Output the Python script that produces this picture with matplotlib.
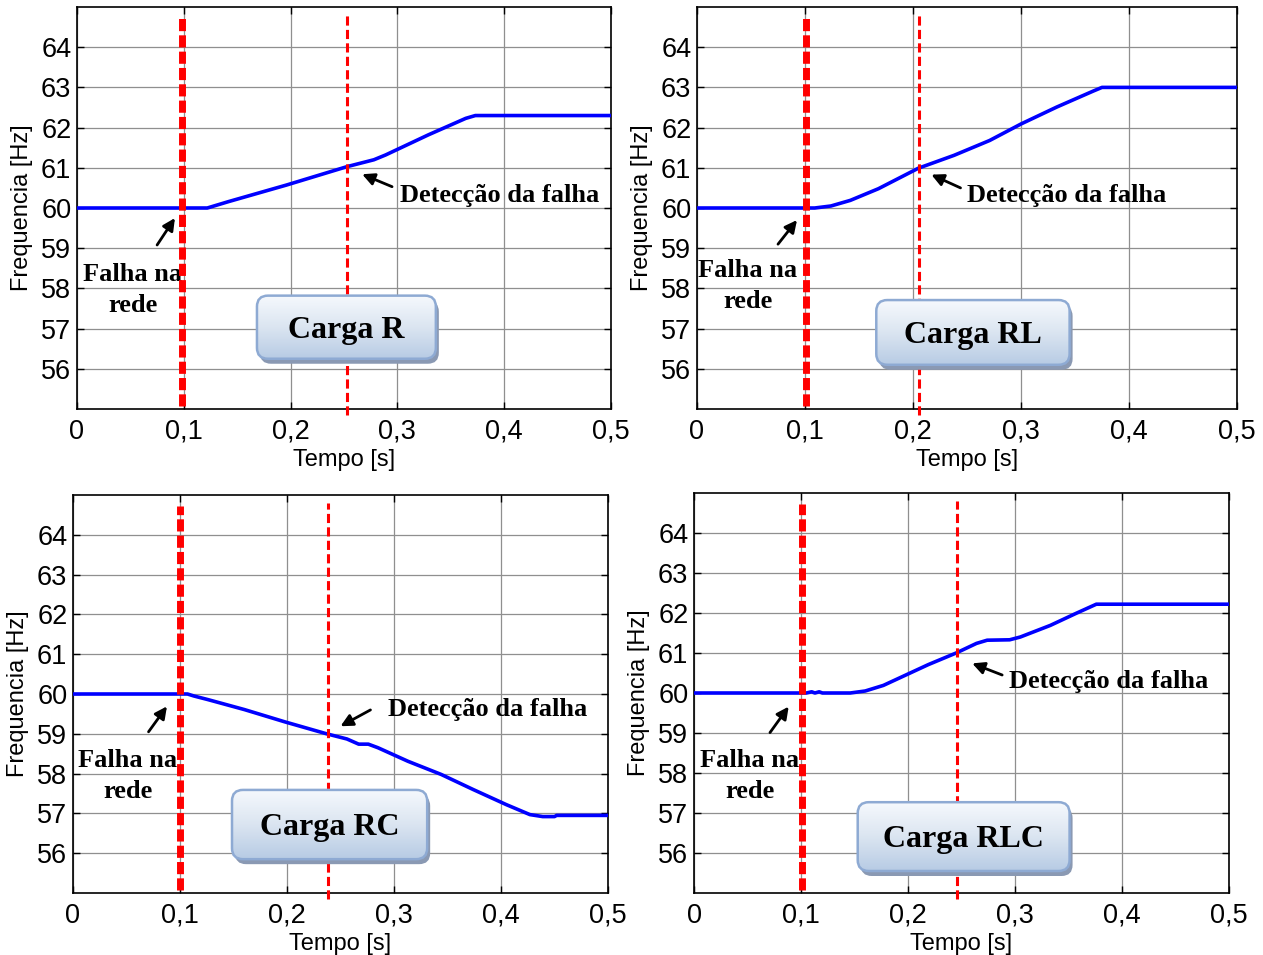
import numpy as np
import matplotlib
matplotlib.use('Agg')
import matplotlib.pyplot as plt
from matplotlib.patches import FancyBboxPatch
from matplotlib.colors import LinearSegmentedColormap

# frequency traces
t_r = [0, 0.122, 0.142, 0.196, 0.253, 0.278, 0.289, 0.329, 0.364, 0.373, 0.5]
f_r = [60, 60, 60.16, 60.57, 61.03, 61.2, 61.32, 61.82, 62.23, 62.3, 62.3]

t_rl = [0, 0.109, 0.124, 0.142, 0.168, 0.205, 0.238, 0.271, 0.300, 0.333, 0.367, 0.375, 0.5]
f_rl = [60, 60, 60.05, 60.19, 60.48, 60.99, 61.31, 61.68, 62.09, 62.51, 62.91, 63.0, 63.0]

t_rc = [0, 0.107, 0.113, 0.126, 0.160, 0.198, 0.237, 0.256, 0.267, 0.276, 0.285,
        0.313, 0.344, 0.374, 0.405, 0.427, 0.439, 0.450, 0.452, 0.5]
f_rc = [60, 60, 59.95, 59.86, 59.61, 59.30, 59.0, 58.87, 58.74, 58.74, 58.65,
        58.31, 57.98, 57.6, 57.22, 56.97, 56.92, 56.92, 56.95, 56.95]

t_rlc = [0, 0.105, 0.110, 0.113, 0.117, 0.120, 0.146, 0.160, 0.177, 0.198, 0.219,
         0.245, 0.264, 0.274, 0.295, 0.305, 0.333, 0.357, 0.376, 0.5]
f_rlc = [60, 60, 60.03, 60.0, 60.03, 60.0, 60.0, 60.05, 60.19, 60.45, 60.71,
         61.0, 61.24, 61.32, 61.33, 61.4, 61.69, 61.99, 62.22, 62.22]

titles = ['Carga R', 'Carga RL', 'Carga RC', 'Carga RLC']
t_fault = [0.098, 0.101, 0.1004, 0.101]
t_detect = [0.253, 0.206, 0.238, 0.246]

x_ticks = [0, 0.1, 0.2, 0.3, 0.4, 0.5]
x_ticklabels = ['0', '0,1', '0,2', '0,3', '0,4', '0,5']
y_ticks = [56, 57, 58, 59, 60, 61, 62, 63, 64]

plt.rcParams['font.family'] = ['Liberation Sans', 'DejaVu Sans']
serif = ['Liberation Serif', 'DejaVu Serif']

W, H = 1263, 955
fig = plt.figure(figsize=(W / 100, H / 100), dpi=100)

# axes rectangles in pixels: left, top, right, bottom
rects = [(77, 7, 611, 409), (697, 7, 1237, 409),
         (73, 495, 608, 893), (694, 493, 1229, 893)]

# layout of annotations per panel
falha_txt = [(0.052, 57.95), (0.047, 58.05), (0.0514, 57.93), (0.0523, 57.92)]
falha_arr = [((0.075, 59.08), (0.0917, 59.75)), ((0.075, 59.1), (0.0926, 59.7)),
             ((0.0706, 59.05), (0.0878, 59.69)), ((0.071, 59.01), (0.0885, 59.66))]
det_txt = [(0.302, 60.32), (0.25, 60.31), (0.294, 59.6), (0.294, 60.28)]
det_arr = [((0.295, 60.53), (0.267, 60.84)), ((0.244, 60.5), (0.217, 60.83)),
           ((0.278, 59.6), (0.25, 59.19)), ((0.288, 60.45), (0.26, 60.74))]
boxes = [(0.1685, 0.336, 56.25, 57.82), (0.166, 0.345, 56.1, 57.71),
         (0.1486, 0.331, 55.85, 57.59), (0.153, 0.351, 55.55, 57.27)]

grad = LinearSegmentedColormap.from_list('g', ['#f6f9fd', '#dbe5f1', '#b7cbe4'])


def label_box(ax, wpx, hpx, box, text):
    x0, x1, y0, y1 = box
    aspect = 20 * wpx / hpx
    r = 11 / (2 * wpx)
    style = 'round,pad=0,rounding_size=%g' % r
    dx = 3 / (2 * wpx)
    dy = 5 / (hpx / 10)
    shadow = FancyBboxPatch((x0 + dx, y0 - dy), x1 - x0, y1 - y0, boxstyle=style,
                            mutation_aspect=aspect, fc='#8a99b3', ec='none', zorder=5)
    ax.add_patch(shadow)
    body = FancyBboxPatch((x0, y0), x1 - x0, y1 - y0, boxstyle=style,
                          mutation_aspect=aspect, fc='none', ec='#8eaad3', lw=1.8, zorder=7)
    ax.add_patch(body)
    im = ax.imshow(np.linspace(0, 1, 256).reshape(-1, 1), extent=[x0, x1, y0, y1],
                   cmap=grad, aspect='auto', zorder=6, interpolation='bilinear')
    im.set_clip_path(body)
    ax.text((x0 + x1) / 2, (y0 + y1) / 2 - 0.08, text, ha='center', va='center',
            fontsize=23, fontweight='bold', family=serif, zorder=8)


series = [(t_r, f_r), (t_rl, f_rl), (t_rc, f_rc), (t_rlc, f_rlc)]

for i, (t, f) in enumerate(series):
    l, tp, r, b = rects[i]
    wpx, hpx = r - l, b - tp
    ax = fig.add_axes([l / W, 1 - b / H, wpx / W, hpx / H])

    ax.plot(t, f, color='#0000ff', lw=2.6, zorder=3)
    ax.plot([t_fault[i], t_fault[i]], [55.07, 64.72], color='#ff0000', lw=5,
            dashes=(1.75, 0.6), zorder=4, solid_capstyle='butt')
    ax.plot([t_detect[i], t_detect[i]], [54.85, 64.8], color='#ff0000', lw=2.2,
            dashes=(3.0, 1.4), zorder=4, clip_on=False)

    ax.set_xlim(0, 0.5)
    ax.set_ylim(55, 65)
    ax.set_xticks(x_ticks)
    ax.set_xticklabels(x_ticklabels)
    ax.set_yticks(y_ticks)
    ax.grid(True, color='#8f8f8f', lw=0.9)
    ax.set_axisbelow(True)
    ax.tick_params(direction='in', top=True, right=True, length=5, width=1,
                   labelsize=19.5, color='black')
    ax.tick_params(axis='y', pad=4)
    ax.tick_params(axis='x', pad=7)
    for s in ax.spines.values():
        s.set_linewidth(1.2)

    ax.set_xlabel('Tempo [s]', fontsize=17)
    ax.set_ylabel('Frequencia [Hz]', fontsize=17)
    ax.xaxis.set_label_coords(0.5, -0.1)
    ax.yaxis.set_label_coords(-0.082, 0.5)

    tx, ty = falha_txt[i]
    ax.text(tx, ty, 'Falha na\nrede', ha='center', va='center', multialignment='center',
            fontsize=19, fontweight='bold', family=serif, linespacing=1.45, zorder=3.5)
    (ax0, ay0), (ax1, ay1) = falha_arr[i]
    ax.annotate('', xy=(ax1, ay1), xytext=(ax0, ay0),
                arrowprops=dict(arrowstyle='-|>', color='black', lw=2, mutation_scale=18,
                                shrinkA=0, shrinkB=0), zorder=3.5)

    dx_, dy_ = det_txt[i]
    ax.text(dx_, dy_, 'Detecção da falha', ha='left', va='center',
            fontsize=19, fontweight='bold', family=serif, zorder=3.5)
    (bx0, by0), (bx1, by1) = det_arr[i]
    ax.annotate('', xy=(bx1, by1), xytext=(bx0, by0),
                arrowprops=dict(arrowstyle='-|>', color='black', lw=2, mutation_scale=18,
                                shrinkA=0, shrinkB=0), zorder=3.5)

    label_box(ax, wpx, hpx, boxes[i], titles[i])
    ax.set_xlim(0, 0.5)
    ax.set_ylim(55, 65)

fig.savefig('out.png', dpi=100)
